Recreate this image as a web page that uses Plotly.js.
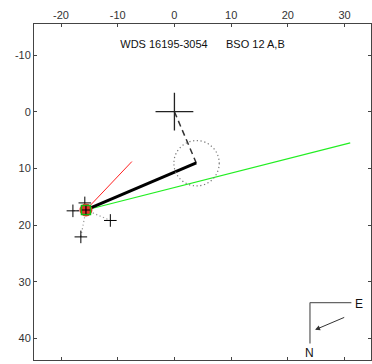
<!DOCTYPE html>
<html>
<head>
<meta charset="utf-8">
<script src="https://cdn.plot.ly/plotly-3.0.1.min.js"></script>
<style>html,body{margin:0;padding:0;background:#fff;}#chart{width:372px;height:364px;}</style>
</head>
<body>
<div id="chart"></div>
<script>
// Data (arcseconds offsets)
var primary = {x: [0], y: [0]};
var dashedSeg = {x: [0, 3.85], y: [0, 9.05]};
var orbitSeg = {x: [3.85, -15.6], y: [9.05, 17.35]};
var redSeg = {x: [-15.6, -7.5], y: [17.35, 8.8]};
var greenSeg = {x: [-15.6, 31.0], y: [17.35, 5.5]};
var obsX = [-17.9, -11.3, -16.5, -15.8];
var obsY = [17.5, 19.2, 22.1, 16.1];
var predX = -15.6, predY = 17.35;
var circleCenter = {x: 3.9, y: 9.1, r: 4.0};
var xTicks = [-20, -10, 0, 10, 20, 30];
var yTicks = [-10, 0, 10, 20, 30, 40];
var titleText = "WDS 16195-3054\u00a0\u00a0\u00a0\u00a0\u00a0\u00a0BSO 12 A,B";

var traces = [];
// O-C dotted lines
for (var i = 0; i < obsX.length; i++) {
  traces.push({x: [predX, obsX[i]], y: [predY, obsY[i]], mode: 'lines',
    line: {color: '#999', width: 1.2, dash: '1.2px,2.5px'}, hoverinfo: 'skip'});
}
traces.push({x: greenSeg.x, y: greenSeg.y, mode: 'lines', line: {color: '#22ee22', width: 1.2}});
traces.push({x: redSeg.x, y: redSeg.y, mode: 'lines', line: {color: '#ff2020', width: 1}});
traces.push({x: dashedSeg.x, y: dashedSeg.y, mode: 'lines', line: {color: '#333', width: 1.5, dash: '6px,4px'}});
traces.push({x: orbitSeg.x, y: orbitSeg.y, mode: 'lines', line: {color: '#000', width: 3}});
traces.push({x: primary.x, y: primary.y, mode: 'markers',
  marker: {symbol: 'cross-thin', size: 27, line: {color: '#222', width: 1.3}}});
traces.push({x: obsX, y: obsY, mode: 'markers',
  marker: {symbol: 'cross-thin', size: 9, line: {color: '#000', width: 1}}});
traces.push({x: [predX], y: [predY], mode: 'markers',
  marker: {symbol: 'circle', size: 13, color: '#e8302a', line: {width: 0}}});
traces.push({x: [predX], y: [predY], mode: 'markers',
  marker: {symbol: 'square-open', size: 9, color: '#11bb11', line: {color: '#11bb11', width: 1.5}}});
traces.push({x: [predX], y: [predY], mode: 'markers',
  marker: {symbol: 'cross-thin', size: 6, line: {color: '#000', width: 1.2}}});

var axisCommon = {
  showgrid: false, zeroline: false, showline: true, mirror: 'allticks',
  linecolor: '#444', linewidth: 1, ticks: 'inside', ticklen: 3, tickcolor: '#444',
  tickfont: {family: 'Liberation Sans, Arial, sans-serif', size: 11, color: '#333'}
};

var layout = {
  width: 372, height: 364,
  margin: {l: 34, r: 1, t: 24, b: 4},
  paper_bgcolor: '#fff', plot_bgcolor: '#fff',
  showlegend: false,
  xaxis: Object.assign({}, axisCommon, {range: [-24.76, 34.66], side: 'top',
    tickvals: xTicks, ticktext: xTicks.map(String)}),
  yaxis: Object.assign({}, axisCommon, {range: [43.83, -15.48],
    tickvals: yTicks, ticktext: yTicks.map(String)}),
  title: {text: titleText, x: 0.5, xref: 'paper', y: 1 - 44 / 364, yref: 'container', yanchor: 'middle',
    font: {family: 'Liberation Sans, Arial, sans-serif', size: 11, color: '#111'}},
  shapes: [
    {type: 'circle', xref: 'x', yref: 'y',
     x0: circleCenter.x - circleCenter.r, x1: circleCenter.x + circleCenter.r,
     y0: circleCenter.y - circleCenter.r, y1: circleCenter.y + circleCenter.r,
     line: {color: '#777', width: 1.2, dash: '1.2px,2.6px'}},
    {type: 'line', xref: 'x', yref: 'y', x0: 23.9, y0: 33.7, x1: 31.2, y1: 33.7, line: {color: '#666', width: 1.3}},
    {type: 'line', xref: 'x', yref: 'y', x0: 23.9, y0: 33.7, x1: 23.9, y1: 40.9, line: {color: '#666', width: 1.3}}
  ],
  annotations: [
    {x: 24.8, y: 38.5, ax: 30.2, ay: 36.2, xref: 'x', yref: 'y', axref: 'x', ayref: 'y',
     showarrow: true, arrowhead: 2, arrowsize: 1, arrowwidth: 1, arrowcolor: '#333', text: ''},
    {x: 32.6, y: 33.9, xref: 'x', yref: 'y', text: 'E', showarrow: false,
     font: {family: 'Liberation Sans, Arial, sans-serif', size: 12, color: '#111'}},
    {x: 23.9, y: 42.6, xref: 'x', yref: 'y', text: 'N', showarrow: false,
     font: {family: 'Liberation Sans, Arial, sans-serif', size: 12, color: '#111'}}
  ]
};

Plotly.newPlot('chart', traces, layout, {staticPlot: true, displayModeBar: false});
</script>
</body>
</html>
